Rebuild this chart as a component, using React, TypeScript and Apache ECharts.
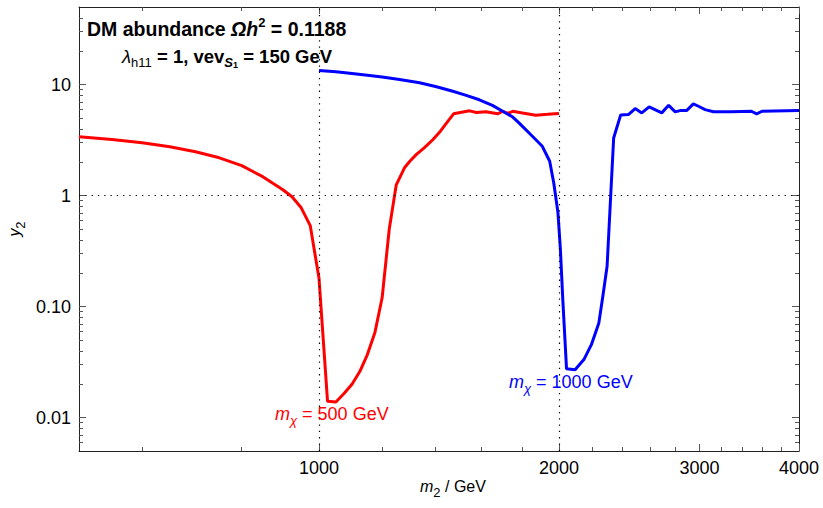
import React, { useEffect, useRef } from "react";
import * as echarts from "echarts";

const FONT = '"Liberation Sans", Arial, Helvetica, sans-serif';

// m2 values (GeV) and y2 values for m_chi = 500 GeV (red)
const redM2 = [500, 550, 600, 650, 700, 750, 800, 850, 900, 925, 950, 975, 1000, 1025, 1050, 1075, 1100, 1125, 1150, 1175, 1200, 1225, 1250, 1280, 1300, 1325, 1355, 1390, 1420, 1445, 1475, 1545, 1575, 1620, 1675, 1700, 1725, 1750, 1800, 1870, 1935, 2000];
const redY2 = [3.39, 3.2, 2.99, 2.75, 2.48, 2.19, 1.86, 1.48, 1.135, 0.977, 0.776, 0.537, 0.18, 0.014, 0.0138, 0.0165, 0.02, 0.026, 0.037, 0.058, 0.12, 0.5, 1.25, 1.78, 2.04, 2.35, 2.69, 3.2, 3.8, 4.5, 5.45, 5.8, 5.6, 5.7, 5.45, 5.75, 5.5, 5.75, 5.55, 5.3, 5.4, 5.5];

// m2 values (GeV) and y2 values for m_chi = 1000 GeV (blue)
const blueM2 = [1000, 1050, 1100, 1150, 1200, 1262, 1337, 1400, 1472, 1530, 1589, 1650, 1700, 1750, 1783, 1852, 1906, 1947, 1970, 1994, 2008, 2022, 2044, 2095, 2149, 2196, 2244, 2270, 2298, 2342, 2390, 2444, 2492, 2540, 2595, 2691, 2745, 2798, 2837, 2891, 2948, 2992, 3050, 3124, 3292, 3486, 3540, 3594, 4000];
const blueY2 = [13.4, 13.03, 12.6, 12.16, 11.7, 11.1, 10.4, 9.6, 8.7, 8.0, 7.3, 6.5, 5.75, 5.1, 4.5, 3.42, 2.78, 2.04, 1.3, 0.7, 0.33, 0.116, 0.0275, 0.027, 0.0333, 0.0454, 0.0713, 0.124, 0.231, 3.3, 5.33, 5.37, 6.08, 5.56, 6.3, 5.56, 6.5, 5.68, 5.83, 5.83, 6.7, 6.38, 5.95, 5.7, 5.7, 5.75, 5.45, 5.75, 5.83];

// axis ticks
const xMajor = [1000, 2000, 3000, 4000];
const xLabels = ["1000", "2000", "3000", "4000"];
const xMinor = [600, 800, 1200, 1400, 1600, 1800, 2200, 2400, 2600, 2800, 3200, 3400, 3600, 3800];
const yMajor = [0.01, 0.1, 1, 10];
const yLabels = ["0.01", "0.10", "1", "10"];
const yMinor = [0.006, 0.007, 0.008, 0.009, 0.02, 0.03, 0.04, 0.05, 0.06, 0.07, 0.08, 0.09, 0.2, 0.3, 0.4, 0.5, 0.6, 0.7, 0.8, 0.9, 2, 3, 4, 5, 6, 7, 8, 9, 20, 30, 40];
const xGridLines = [1000, 2000];
const yGridLines = [1];

const X_MIN = 500, X_MAX = 4000, Y_MIN = 0.005, Y_MAX = 50;

function labelFor(values: number[], labels: string[]) {
  return (v: number) => {
    const i = values.findIndex((m) => Math.abs(Math.log10(m) - Math.log10(v)) < 1e-6);
    return i >= 0 ? labels[i] : "";
  };
}

export default function App() {
  const ref = useRef<HTMLDivElement>(null);
  useEffect(() => {
    if (!ref.current) return;
    const chart = echarts.init(ref.current, null, { renderer: "svg" });
    const lineCol = "#222";
    const tickCol = "#555";
    const mkX = (position: string, major: boolean, labels: boolean) => ({
      type: "log",
      logBase: 10,
      min: X_MIN,
      max: X_MAX,
      position,
      axisLine: { show: major, onZero: false, lineStyle: { color: lineCol, width: 1 } },
      axisTick: { show: true, inside: true, length: major ? 7 : 4, customValues: major ? xMajor : xMinor, lineStyle: { color: tickCol, width: 1 } },
      axisLabel: labels
        ? { show: true, customValues: xMajor, formatter: labelFor(xMajor, xLabels), fontSize: 18, color: "#000", fontFamily: FONT, margin: 8 }
        : { show: false },
      splitLine: { show: false },
      minorTick: { show: false },
    });
    const mkY = (position: string, major: boolean, labels: boolean) => ({
      type: "log",
      logBase: 10,
      min: Y_MIN,
      max: Y_MAX,
      position,
      axisLine: { show: major, onZero: false, lineStyle: { color: lineCol, width: 1 } },
      axisTick: { show: true, inside: true, length: major ? 7 : 4, customValues: major ? yMajor : yMinor, lineStyle: { color: tickCol, width: 1 } },
      axisLabel: labels
        ? { show: true, customValues: yMajor, formatter: labelFor(yMajor, yLabels), fontSize: 18, color: "#000", fontFamily: FONT, margin: 8 }
        : { show: false },
      splitLine: { show: false },
      minorTick: { show: false },
    });

    const redData = redM2.map((m, i) => [m, redY2[i]]);
    const blueData = blueM2.map((m, i) => [m, blueY2[i]]);

    const rich = (size: number, color: string) => ({
      n: { fontSize: size, fontFamily: FONT, fill: color, lineHeight: 26 },
      b: { fontSize: size, fontFamily: FONT, fontWeight: "bold", fill: color, lineHeight: 26 },
      bi: { fontSize: size, fontFamily: FONT, fontWeight: "bold", fontStyle: "italic", fill: color, lineHeight: 26 },
      i: { fontSize: size, fontFamily: FONT, fontStyle: "italic", fill: color, lineHeight: 26 },
      supb: { fontSize: 13, fontFamily: FONT, fontWeight: "bold", fill: color, lineHeight: 17, verticalAlign: "top" },
      sub: { fontSize: 13, fontFamily: FONT, fill: color, lineHeight: 17, verticalAlign: "bottom" },
      subi: { fontSize: 13, fontFamily: FONT, fontStyle: "italic", fill: color, lineHeight: 17, verticalAlign: "bottom" },
      subbi: { fontSize: 13, fontFamily: FONT, fontWeight: "bold", fontStyle: "italic", fill: color, lineHeight: 17, verticalAlign: "bottom" },
      subsub: { fontSize: 9, fontFamily: FONT, fontWeight: "bold", fill: color, lineHeight: 10, verticalAlign: "bottom" },
    });

    chart.setOption({
      animation: false,
      backgroundColor: "#fff",
      grid: { left: 79, right: 24, top: 7, bottom: 57, containLabel: false },
      xAxis: [mkX("bottom", true, true), mkX("bottom", false, false), mkX("top", true, false), mkX("top", false, false)],
      yAxis: [mkY("left", true, true), mkY("left", false, false), mkY("right", true, false), mkY("right", false, false)],
      series: [
        {
          type: "line",
          data: [],
          z: 1,
          silent: true,
          markLine: {
            silent: true,
            symbol: ["none", "none"],
            label: { show: false },
            lineStyle: { color: "#000", width: 1.2, type: [1.3, 5] },
            data: [...xGridLines.map((v) => ({ xAxis: v })), ...yGridLines.map((v) => ({ yAxis: v }))],
          },
        },
        {
          type: "line",
          data: redData,
          showSymbol: false,
          symbol: "none",
          z: 3,
          lineStyle: { color: "#ff0000", width: 3 },
        },
        {
          type: "line",
          data: blueData,
          showSymbol: false,
          symbol: "none",
          z: 4,
          lineStyle: { color: "#0000ff", width: 3 },
        },
      ],
      graphic: [
        {
          type: "text",
          x: 87,
          y: 29,
          z: 10,
          style: {
            text: "{b|DM abundance }{bi|Ωh}{supb|2}{b| = 0.1188}",
            rich: rich(19.5, "#000"),
            fill: "#000",
            verticalAlign: "middle",
            align: "left",
          },
        },
        {
          type: "text",
          x: 122,
          y: 56,
          z: 10,
          style: {
            text: "{i|λ}{sub|h11}{b| = 1, vev}{subbi|S}{subsub|1}{b| = 150 GeV}",
            rich: rich(18.5, "#000"),
            fill: "#000",
            verticalAlign: "middle",
            align: "left",
          },
        },
        {
          type: "text",
          x: 275,
          y: 414,
          z: 10,
          style: {
            text: "{i|m}{subi|χ}{n| = 500 GeV}",
            rich: rich(18, "#ff0000"),
            fill: "#ff0000",
            verticalAlign: "middle",
            align: "left",
          },
        },
        {
          type: "text",
          x: 509,
          y: 382,
          z: 10,
          style: {
            text: "{i|m}{subi|χ}{n| = 1000 GeV}",
            rich: rich(18, "#0000ff"),
            fill: "#0000ff",
            verticalAlign: "middle",
            align: "left",
          },
        },
        {
          type: "text",
          x: 420,
          y: 486,
          z: 10,
          style: {
            text: "{i|m}{sub|2}{n| / GeV}",
            rich: rich(16, "#000"),
            fill: "#000",
            verticalAlign: "middle",
            align: "left",
          },
        },
        {
          type: "text",
          x: 14,
          y: 229,
          rotation: Math.PI / 2,
          z: 10,
          style: {
            text: "{i|y}{sub|2}",
            rich: rich(16, "#000"),
            fill: "#000",
            verticalAlign: "middle",
            align: "center",
          },
        },
      ],
    });
    return () => chart.dispose();
  }, []);
  return <div ref={ref} style={{ position: "absolute", left: 0, top: 0, width: 823, height: 508 }} />;
}
